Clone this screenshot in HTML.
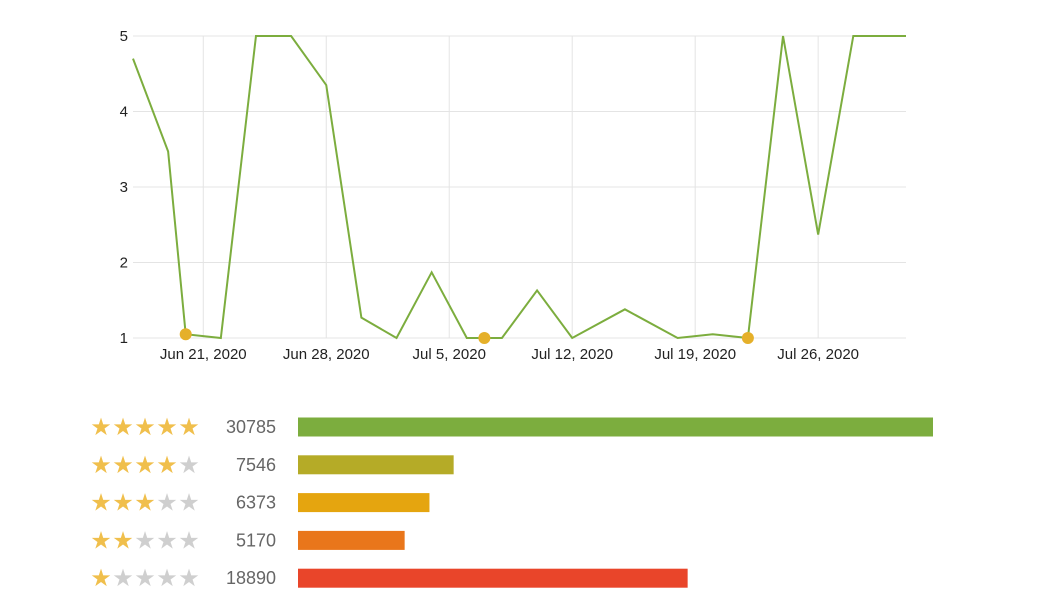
<!DOCTYPE html>
<html><head><meta charset="utf-8"><style>
body{margin:0;background:#fff;font-family:"Liberation Sans",Arial,sans-serif;}
svg{display:block}
</style></head><body>
<svg width="1048" height="601">
<g id="grid"></g>
<g id="line"></g>
<g id="bars"></g>
</svg>
<script>
const NS="http://www.w3.org/2000/svg";
// Time series: day index from Jun 17, 2020, and average rating
const dayIdx=[0,2,3,5,7,9,11,13,15,17,19,20,21,23,25,28,31,33,35,37,39,41,44];
const ratings=[4.7,3.47,1.05,1,5,5,4.35,1.27,1,1.87,1,1,1,1.63,1,1.38,1,1.05,1,5,2.37,5,5];
const dotIdx=[3,20,35];
const yTicks=[1,2,3,4,5];
const xTickDays=[4,11,18,25,32,39];
const xTickLabels=["Jun 21, 2020","Jun 28, 2020","Jul 5, 2020","Jul 12, 2020","Jul 19, 2020","Jul 26, 2020"];
// Distribution
const starLevels=[5,4,3,2,1];
const counts=[30785,7546,6373,5170,18890];
const barColors=["#7cad3e","#b5ab27","#e5a50f","#e9761b","#e9452a"];

const x0=133,x1=906,y0=338,y1=36;
const xs=d=>x0+(x1-x0)*d/44;
const ys=v=>y0-(y0-y1)*(v-1)/4;
function el(t,a,p){const e=document.createElementNS(NS,t);for(const k in a)e.setAttribute(k,a[k]);p.appendChild(e);return e;}
const grid=document.getElementById('grid');
yTicks.forEach(v=>{
  const l=el('line',{x1:x0,x2:x1,y1:ys(v),y2:ys(v),stroke:'#e4e4e4'},grid);
  
  
  const t=el('text',{x:128,y:ys(v)+5,'text-anchor':'end','font-size':15,fill:'#222'},grid);
  t.textContent=v;
  
  
});
xTickDays.forEach((d,i)=>{
  const l=el('line',{x1:xs(d),x2:xs(d),y1:y1,y2:y0,stroke:'#e4e4e4'},grid);
  
  
  const t=el('text',{x:xs(d),y:359,'text-anchor':'middle','font-size':15,fill:'#222'},grid);
  t.textContent=xTickLabels[i];
  
  
});
const lg=document.getElementById('line');
const p=el('polyline',{points:dayIdx.map((d,i)=>xs(d)+','+ys(ratings[i])).join(' '),fill:'none',stroke:'#7cad3e','stroke-width':2},lg);


dotIdx.forEach(d=>{
  const i=dayIdx.indexOf(d);
  const c=el('circle',{cx:xs(d),cy:ys(ratings[i]),r:6,fill:'#e5b02a'},lg);
  
  
});
const bg=document.getElementById('bars');
const maxC=Math.max(...counts);
starLevels.forEach((s,r)=>{
  const cy=427+r*37.8;
  for(let k=0;k<5;k++){
    const t=el('text',{x:101+k*22,y:cy+8,'text-anchor':'middle','font-size':24,fill:k<s?'#f0bf4c':'#cfcfcf'},bg);
    t.textContent='★';
    
    
  }
  const t=el('text',{x:276,y:cy+6,'text-anchor':'end','font-size':18,fill:'#666'},bg);
  t.textContent=counts[r];
  
  
  const b=el('rect',{x:298,y:cy-9.5,width:635*counts[r]/maxC,height:19,fill:barColors[r]},bg);
  
  
});
</script>
</body></html>
